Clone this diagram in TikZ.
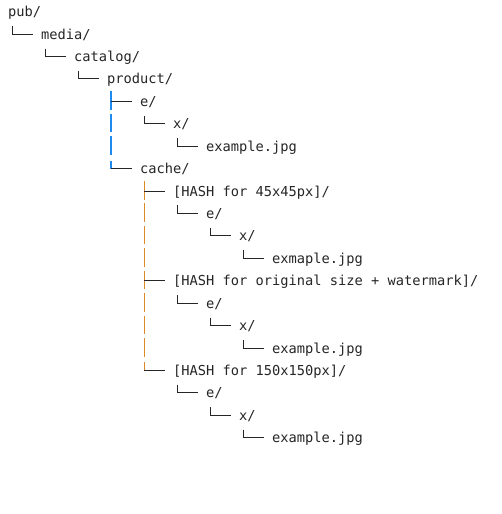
\documentclass[tikz,border=0pt]{standalone}
\usepackage{fontspec}
\newfontfamily\treefont{DejaVu Sans Mono}
\usetikzlibrary{calc}
\definecolor{txt}{HTML}{262626}
\definecolor{barblue}{HTML}{1E8AF0}
\definecolor{barorange}{HTML}{DB8A26}
\newcommand\cw{8.25}
\newcommand\lh{22.42}
\newcommand\entry[4]{\node[entry] (#1) at ({8+\cw*#2},{-(16.7+\lh*#3)}) {#4};}
% tee: parent, child, style
\newcommand\tee[3]{%
  \draw[vbar,#3] let \p1=(#1.base west), \p2=(#2.base west) in (\x1+4.1pt,\y2+15pt) -- (\x1+4.1pt,\y2-3.5pt);
  \draw[hbar] let \p1=(#1.base west), \p2=(#2.base west) in (\x1+4.1pt,\y2+5pt) -- (\x1+24.75pt,\y2+5pt);}
% corner: parent, child, style
\newcommand\corner[3]{%
  \draw[vbar,#3] let \p1=(#1.base west), \p2=(#2.base west) in (\x1+4.1pt,\y2+13pt) -- (\x1+4.1pt,\y2+5pt);
  \draw[hbar] let \p1=(#1.base west), \p2=(#2.base west) in (\x1+4.1pt,\y2+5pt) -- (\x1+24.75pt,\y2+5pt);}
% pipe: ancestor, row node, style
\newcommand\pipe[3]{%
  \draw[vbar,#3] let \p1=(#1.base west), \p2=(#2.base west) in (\x1+4.1pt,\y2+15pt) -- (\x1+4.1pt,\y2-3.5pt);}
\begin{document}
\begin{tikzpicture}[x=1pt,y=1pt,
  entry/.style={anchor=base west,inner sep=0pt,font=\treefont\fontsize{13.7}{16}\selectfont,text=txt},
  vbar/.style={draw=txt,line width=1.1pt},
  hbar/.style={draw=txt,line width=1pt},
  bluebar/.style={draw=barblue,line width=1.3pt},
  orangebar/.style={draw=barorange,line width=1.1pt}]
\useasboundingbox[fill=white] (0,0) rectangle (501,-514);
\entry{pub}{0}{0}{pub/}
\entry{media}{4}{1}{media/}
\entry{catalog}{8}{2}{catalog/}
\entry{product}{12}{3}{product/}
\entry{eA}{16}{4}{e/}
\entry{xA}{20}{5}{x/}
\entry{jA}{24}{6}{example.jpg}
\entry{cache}{16}{7}{cache/}
\entry{hB}{20}{8}{[HASH for 45x45px]/}
\entry{eB}{24}{9}{e/}
\entry{xB}{28}{10}{x/}
\entry{jB}{32}{11}{exmaple.jpg}
\entry{hC}{20}{12}{[HASH for original size + watermark]/}
\entry{eC}{24}{13}{e/}
\entry{xC}{28}{14}{x/}
\entry{jC}{32}{15}{example.jpg}
\entry{hD}{20}{16}{[HASH for 150x150px]/}
\entry{eD}{24}{17}{e/}
\entry{xD}{28}{18}{x/}
\entry{jD}{32}{19}{example.jpg}
% connectors
\corner{pub}{media}{}
\corner{media}{catalog}{}
\corner{catalog}{product}{}
\tee{product}{eA}{bluebar}
\corner{eA}{xA}{}
\pipe{product}{xA}{bluebar}
\corner{xA}{jA}{}
\pipe{product}{jA}{bluebar}
\corner{product}{cache}{bluebar}
\tee{cache}{hB}{orangebar}
\corner{hB}{eB}{}
\pipe{cache}{eB}{orangebar}
\corner{eB}{xB}{}
\pipe{cache}{xB}{orangebar}
\corner{xB}{jB}{}
\pipe{cache}{jB}{orangebar}
\tee{cache}{hC}{orangebar}
\corner{hC}{eC}{}
\pipe{cache}{eC}{orangebar}
\corner{eC}{xC}{}
\pipe{cache}{xC}{orangebar}
\corner{xC}{jC}{}
\pipe{cache}{jC}{orangebar}
\corner{cache}{hD}{orangebar}
\corner{hD}{eD}{}
\corner{eD}{xD}{}
\corner{xD}{jD}{}
\end{tikzpicture}
\end{document}
